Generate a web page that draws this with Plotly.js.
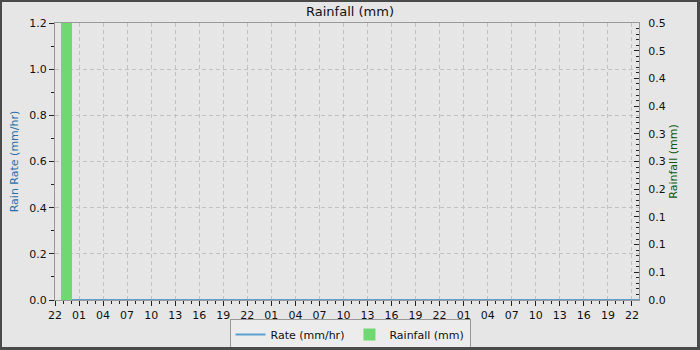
<!DOCTYPE html>
<html>
<head>
<meta charset="utf-8">
<script src="https://cdn.plot.ly/plotly-3.0.1.min.js"></script>
<style>
  html, body { margin: 0; padding: 0; background: #e6e6e6; }
  #wrap { position: relative; width: 700px; height: 350px; }
  #chart { width: 700px; height: 350px; }
  #frame { position: absolute; left: 0; top: 0; width: 700px; height: 350px; box-sizing: border-box;
           border-style: solid; border-color: #4a4a4a; border-width: 2px 3px 3px 2px; pointer-events: none; }
</style>
</head>
<body>
<div id="wrap"><div id="chart"></div><div id="frame"></div></div>
<script>
// Time window shown (72 h, starting 22:00)
const xStart = '2023-05-01 22:00';
const xEnd = '2023-05-04 22:53';

// Rain rate (mm/hr) — flat at zero over the period
const rateTimes = ['2023-05-01 22:45', '2023-05-02 22:00', '2023-05-03 22:00', '2023-05-04 22:53'];
const rateValues = [0, 0, 0, 0];

// Hourly rainfall (mm)
const rainTimes = ['2023-05-01 23:25'];
const rainValues = [0.5];

// Right-axis tick values and their (rounded) labels
const rightTickVals = [0, 0.05, 0.1, 0.15, 0.2, 0.25, 0.3, 0.35, 0.4, 0.45, 0.5];
const rightTickText = ['0.0', '0.1', '0.1', '0.1', '0.2', '0.3', '0.3', '0.4', '0.4', '0.5', '0.5'];

const font = 'DejaVu Sans, sans-serif';

const traces = [
  {
    type: 'bar', name: 'Rainfall (mm)', x: rainTimes, y: rainValues, yaxis: 'y2',
    width: 1.35 * 3600000,
    marker: { color: '#70d870', line: { width: 0 } }
  },
  {
    type: 'scatter', mode: 'lines', name: 'Rate (mm/hr)', x: rateTimes, y: rateValues,
    line: { color: '#5b9fcf', width: 2 }
  }
];

const layout = {
  width: 700, height: 350,
  paper_bgcolor: '#e6e6e6', plot_bgcolor: '#e6e6e6',
  margin: { l: 55, r: 61, t: 23, b: 50 },
  font: { family: font, size: 11, color: '#111' },
  title: { text: 'Rainfall (mm)', font: { family: font, size: 13, color: '#111' },
           x: 0.5, xanchor: 'center', xref: 'container', y: 1 - 11 / 350, yref: 'container', yanchor: 'middle' },
  showlegend: true,
  legend: {
    orientation: 'h', traceorder: 'reversed',
    xref: 'container', yref: 'container', x: 0.5, xanchor: 'center', y: 0, yanchor: 'bottom',
    bgcolor: '#ececec', bordercolor: '#999', borderwidth: 1, itemwidth: 30,
    font: { family: font, size: 11, color: '#111' }
  },
  xaxis: {
    type: 'date', range: [xStart, xEnd],
    tick0: xStart, dtick: 3 * 3600000, tickformat: '%H',
    ticks: 'outside', ticklen: 5, tickcolor: '#222',
    showgrid: true, gridcolor: '#c2c2c2', griddash: '4px,3px', gridwidth: 1,
    showline: true, linecolor: '#999', mirror: true,
    zeroline: false,
    tickfont: { family: font, size: 11, color: '#111' },
    minor: { dtick: 3600000, ticks: 'outside', ticklen: 3, tickcolor: '#222', showgrid: false }
  },
  yaxis: {
    range: [0, 1.2], dtick: 0.2, tickformat: '.1f',
    ticks: 'outside', ticklen: 5, tickcolor: '#222',
    showgrid: true, gridcolor: '#c2c2c2', griddash: '4px,3px', gridwidth: 1,
    showline: true, linecolor: '#999', mirror: true, zeroline: false,
    tickfont: { family: font, size: 11, color: '#111' },
    title: { text: 'Rain Rate (mm/hr)', font: { family: font, size: 11, color: '#2a6ea6' }, standoff: 8 },
    minor: { dtick: 0.1, ticks: 'outside', ticklen: 3, tickcolor: '#222', showgrid: false }
  },
  yaxis2: {
    overlaying: 'y', side: 'right', range: [0, 0.5],
    tickmode: 'array', tickvals: rightTickVals, ticktext: rightTickText,
    ticks: 'inside', ticklen: 5, tickcolor: '#222', ticklabelstandoff: 6,
    showgrid: false, showline: true, linecolor: '#999', zeroline: false,
    tickfont: { family: font, size: 11, color: '#111' },
    title: { text: 'Rainfall (mm)', font: { family: font, size: 11, color: '#0b5a0b' }, standoff: 4 },
    minor: { dtick: 0.01, ticks: 'inside', ticklen: 3, tickcolor: '#222', showgrid: false }
  },
  bargap: 0
};

Plotly.newPlot('chart', traces, layout, { displayModeBar: false, staticPlot: true });
</script>
</body>
</html>
